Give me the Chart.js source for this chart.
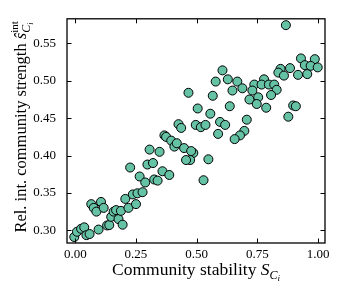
<!DOCTYPE html>
<html>
<head>
<meta charset="utf-8">
<script src="https://cdn.jsdelivr.net/npm/chart.js@4.4.1/dist/chart.umd.min.js"></script>
<style>
  body { margin: 0; background: #fff; }
  #wrap { width: 340px; height: 291px; position: relative; }
</style>
</head>
<body>
<div id="wrap"><canvas id="scatterChart"></canvas></div>
<script>
// community stability S_Ci (x)
const stability = [
  0.466, 0.504, 0.425, 0.436, 0.496, 0.517, 0.536, 0.867, 0.929, 0.986,
  0.945, 0.969, 0.998, 0.955, 0.917, 0.884, 0.845, 0.836, 0.859, 0.606,
  0.628, 0.578, 0.667, 0.647, 0.688, 0.737, 0.729, 0.777, 0.767, 0.797,
  0.819, 0.829, 0.806, 0.753, 0.717, 0.747, 0.786, 0.566, 0.556, 0.636,
  0.596, 0.617, 0.706, 0.897, 0.908, 0.877, 0.588, 0.696, 0.678, 0.656,
  0.486, 0.473, 0.548, 0.528, -0.004, 0.007, 0.024, 0.037, 0.046, 0.059,
  0.066, 0.076, 0.087, 0.106, 0.117, 0.096, 0.131, 0.140, 0.148, 0.158,
  0.168, 0.178, 0.195, 0.188, 0.206, 0.219, 0.226, 0.237, 0.250, 0.256,
  0.265, 0.277, 0.288, 0.297, 0.306, 0.320, 0.325, 0.339, 0.347, 0.359,
  0.367, 0.374, 0.387, 0.395, 0.408, 0.418, 0.448, 0.456, 0.477
];
// relative internal community strength (y)
const strength = [
  0.484, 0.463, 0.442, 0.437, 0.441, 0.438, 0.441, 0.5745, 0.530, 0.529,
  0.521, 0.520, 0.518, 0.509, 0.508, 0.517, 0.516, 0.511, 0.507, 0.514,
  0.502, 0.499, 0.499, 0.487, 0.490, 0.495, 0.487, 0.502, 0.495, 0.495,
  0.495, 0.488, 0.481, 0.478, 0.475, 0.469, 0.464, 0.480, 0.456, 0.466,
  0.445, 0.441, 0.448, 0.467, 0.466, 0.452, 0.429, 0.433, 0.427, 0.422,
  0.4035, 0.394, 0.395, 0.367, 0.291, 0.298, 0.302, 0.304, 0.2935, 0.295,
  0.335, 0.330, 0.325, 0.338, 0.330, 0.301, 0.3065, 0.307, 0.318, 0.325,
  0.327, 0.315, 0.3075, 0.326, 0.342, 0.330, 0.384, 0.348, 0.335, 0.3495,
  0.372, 0.351, 0.364, 0.388, 0.408, 0.390, 0.368, 0.3665, 0.405, 0.379,
  0.427, 0.425, 0.374, 0.420, 0.412, 0.4165, 0.410, 0.394, 0.406
];
const xTicks = [0.00, 0.25, 0.50, 0.75, 1.00];
const yTicks = [0.30, 0.35, 0.40, 0.45, 0.50, 0.55];

const serif = "'Liberation Serif', 'DejaVu Serif', serif";

// draws a row of text pieces (with sub/superscripts) centred on (cx, cy)
function drawRich(ctx, parts, cx, cy, angle) {
  let x = 0, maxX = 0, saved = 0;
  const placed = [];
  parts.forEach(p => {
    if (p.save) saved = x;
    if (p.restore) x = saved;
    ctx.font = p.f;
    placed.push({ t: p.t, f: p.f, x: x, dy: p.dy || 0 });
    x += ctx.measureText(p.t).width;
    maxX = Math.max(maxX, x);
  });
  ctx.save();
  ctx.translate(cx, cy);
  ctx.rotate(angle);
  ctx.fillStyle = '#000';
  ctx.textBaseline = 'alphabetic';
  ctx.textAlign = 'left';
  placed.forEach(p => {
    ctx.font = p.f;
    ctx.fillText(p.t, p.x - maxX / 2, p.dy);
  });
  ctx.restore();
}

function fonts(fs) {
  return {
    reg: fs + 'px ' + serif,
    it: 'italic ' + fs + 'px ' + serif,
    it2: 'italic ' + Math.round(fs * 0.7) + 'px ' + serif,
    it3: 'italic ' + Math.round(fs * 0.5) + 'px ' + serif,
    up2: Math.round(fs * 0.68) + 'px ' + serif
  };
}

const framePlugin = {
  id: 'framePlugin',
  afterDraw(chart) {
    const ctx = chart.ctx;
    const a = chart.chartArea;
    const xs = chart.scales.x, ys = chart.scales.y;
    const len = 4.5;
    ctx.save();
    ctx.strokeStyle = '#000';
    ctx.lineWidth = 1;
    ctx.beginPath();
    xTicks.forEach(v => {
      const px = Math.round(xs.getPixelForValue(v)) + 0.5;
      ctx.moveTo(px, a.bottom); ctx.lineTo(px, a.bottom - len);
      ctx.moveTo(px, a.top); ctx.lineTo(px, a.top + len);
    });
    yTicks.forEach(v => {
      const py = Math.round(ys.getPixelForValue(v)) + 0.5;
      ctx.moveTo(a.left, py); ctx.lineTo(a.left + len, py);
      ctx.moveTo(a.right, py); ctx.lineTo(a.right - len, py);
    });
    ctx.stroke();
    ctx.lineWidth = 1.3;
    ctx.strokeRect(a.left, a.top, a.right - a.left, a.bottom - a.top);
    ctx.restore();

    const fx = fonts(17.5);
    drawRich(ctx, [
      { t: 'Community stability ', f: fx.reg },
      { t: 'S', f: fx.it },
      { t: 'C', f: fx.it2, dy: 3.5 },
      { t: 'i', f: fx.it3, dy: 6 }
    ], (a.left + a.right) / 2, 275, 0);

    const fy = fonts(16.5);
    drawRich(ctx, [
      { t: 'Rel. int. community strength ', f: fy.reg },
      { t: '\u015D', f: fy.it },
      { t: 'int', f: fy.up2, dy: -8, save: true },
      { t: 'C', f: fy.it2, dy: 4, restore: true },
      { t: 'i', f: fy.it3, dy: 6.5 }
    ], 26, (a.top + a.bottom) / 2 - 4, -Math.PI / 2);
  }
};

const ctx = document.getElementById('scatterChart').getContext('2d');
const points = stability.map((s, i) => ({ x: s, y: strength[i] }));

new Chart(ctx, {
  type: 'scatter',
  data: {
    datasets: [{
      data: points,
      backgroundColor: '#66c2a5',
      borderColor: '#000',
      borderWidth: 1,
      pointRadius: 4.5,
      pointHoverRadius: 4.5
    }]
  },
  options: {
    responsive: true,
    maintainAspectRatio: false,
    animation: false,
    layout: { padding: { top: 13, right: 15, left: 0, bottom: 0 } },
    plugins: { legend: { display: false }, tooltip: { enabled: false } },
    scales: {
      x: {
        type: 'linear',
        min: -0.034,
        max: 1.028,
        afterBuildTicks: s => { s.ticks = xTicks.map(v => ({ value: v })); },
        afterFit: s => { s.height = 48; },
        grid: { display: false, drawTicks: false },
        border: { display: false },
        ticks: {
          padding: 4,
          color: '#000',
          font: { family: serif, size: 13 },
          callback: v => Number(v).toFixed(2)
        }
      },
      y: {
        min: 0.283,
        max: 0.583,
        afterBuildTicks: s => { s.ticks = yTicks.map(v => ({ value: v })); },
        afterFit: s => { s.width = 67; },
        grid: { display: false, drawTicks: false },
        border: { display: false },
        ticks: {
          padding: 11,
          color: '#000',
          font: { family: serif, size: 13 },
          callback: v => Number(v).toFixed(2)
        }
      }
    }
  },
  plugins: [framePlugin]
});
</script>
</body>
</html>
